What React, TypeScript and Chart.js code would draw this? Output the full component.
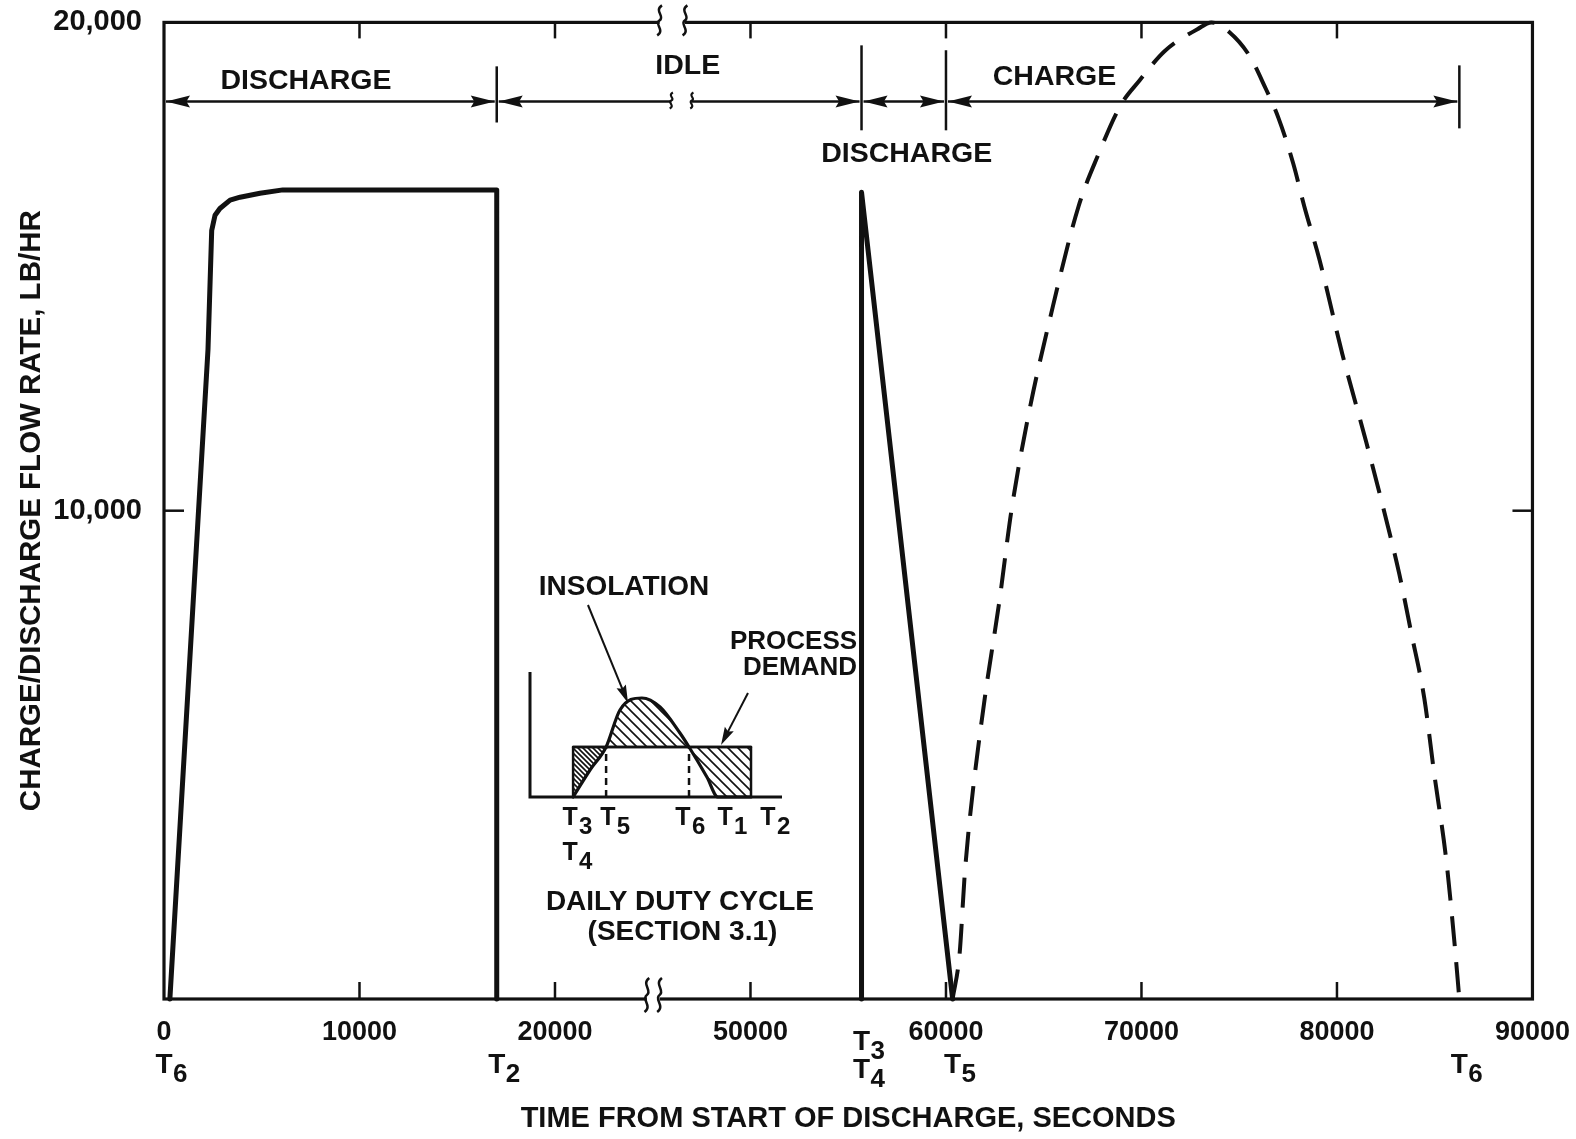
import React, { useEffect, useRef } from 'react';
import { Chart, registerables } from 'chart.js';

Chart.register(...registerables);

const FONT = "'Liberation Sans', Arial, Helvetica, sans-serif";
const INK = '#111';

// ---------------- main chart data ----------------
const X_TICK_POSITIONS = [0, 10000, 20000, 30000, 40000, 50000, 60000, 70000];
const X_TICK_LABELS = ['0', '10000', '20000', '50000', '60000', '70000', '80000', '90000'];
const Y_TICK_VALUES = [0, 10000, 20000];
const Y_TICK_LABELS = ['', '10,000', '20,000'];
const AXIS_BREAK_AT = 25000; // real seconds; later times are shifted left by the gap
const AXIS_GAP = 20000;

// first discharge (real seconds, lb/hr)
const DISCHARGE1_T = [300, 2250, 2440, 2610, 2860, 3380, 3890, 4910, 6080, 17020, 17020];
const DISCHARGE1_V = [0, 13300, 15740, 16050, 16190, 16360, 16420, 16500, 16570, 16570, 0];

// second discharge
const DISCHARGE2_T = [55680, 55680, 60340];
const DISCHARGE2_V = [0, 16520, 0];

// charge (dashed)
const CHARGE_T = [60340, 60700, 60950, 61210, 61970, 62740, 63350, 64270, 65300, 66780, 67800, 68930, 69900, 71180, 72860, 73580, 74500, 75520, 76290, 77000, 77770, 78330, 79100, 80280, 81500, 82530, 83190, 83800, 84470, 84980, 85590, 86000, 86260];
const CHARGE_V = [0, 940, 2500, 3660, 6120, 8170, 10010, 12060, 13900, 16230, 17300, 18300, 18810, 19410, 19860, 20000, 19800, 19320, 18700, 18050, 17100, 16230, 15150, 13200, 11400, 9800, 8700, 7500, 6150, 4600, 2850, 1200, 0];

const PHASE_LABELS = ['DISCHARGE', 'IDLE', 'DISCHARGE', 'CHARGE'];
const PHASE_BOUNDS = [0, 17020, 55680, 60000, 86260];
const T_MARK_TIMES = [0, 17020, 55680, 60340, 86260];
const T_MARK_SUBS = [['6'], ['2'], ['3', '4'], ['5'], ['6']];

// ---------------- inset (daily duty cycle) data ----------------
const INSOL_X = [17.1, 23.8, 30.2, 35.7, 44.4, 51.6, 59.5, 63.1, 70.2, 74.6, 87.7];
const INSOL_Y = [0, 21.6, 40, 69.6, 79.2, 72, 51.2, 40, 16, 0, 0];
const DEMAND_LEVEL = 40;
const DEMAND_START = 17.1;
const DEMAND_END = 87.7;
const INSET_T5 = 30.2;
const INSET_T6 = 63.1;
const INSET_T_LABELS = ['3', '5', '6', '1', '2'];

// target plot frame on the page
const PLOT_LEFT = 164;
const PLOT_TOP = 22;
const PLOT_RIGHT = 1533;
const PLOT_BOTTOM = 999;
const PAGE_W = 1576;
const PAGE_H = 1139;

const toAxis = (t: number) => (t > AXIS_BREAK_AT ? t - AXIS_GAP : t);
const pts = (ts: number[], vs: number[]) => ts.map((t, i) => ({ x: toAxis(t), y: vs[i] }));

function seg(ctx: any, x1: number, y1: number, x2: number, y2: number) {
  ctx.beginPath();
  ctx.moveTo(x1, y1);
  ctx.lineTo(x2, y2);
  ctx.stroke();
}
function head(ctx: any, tx: number, ty: number, ang: number, len = 24, half = 6) {
  const c = Math.cos(ang), s = Math.sin(ang);
  ctx.beginPath();
  ctx.moveTo(tx, ty);
  ctx.lineTo(tx - len * c + half * s, ty - len * s - half * c);
  ctx.lineTo(tx - len * c * 0.85, ty - len * s * 0.85);
  ctx.lineTo(tx - len * c - half * s, ty - len * s + half * c);
  ctx.closePath();
  ctx.fill();
}
function squiggle(ctx: any, x: number, y: number, h: number, w: number) {
  ctx.beginPath();
  ctx.moveTo(x + w * 0.4, y - h / 2);
  ctx.bezierCurveTo(x - w, y - h * 0.32, x + w, y - h * 0.12, x, y);
  ctx.bezierCurveTo(x - w, y + h * 0.12, x + w, y + h * 0.32, x - w * 0.4, y + h / 2);
  ctx.stroke();
}
function tLabel(ctx: any, x: number, y: number, sub: string, big: number, small: number, dx: number, dy: number) {
  ctx.textBaseline = 'middle';
  ctx.font = `bold ${big}px ${FONT}`;
  ctx.textAlign = 'center';
  ctx.fillText('T', x, y);
  ctx.font = `bold ${small}px ${FONT}`;
  ctx.textAlign = 'left';
  ctx.fillText(sub, x + dx, y + dy);
}

const mainDecor = {
  id: 'mainDecor',
  beforeDatasetsDraw(chart: any) {
    const { ctx, chartArea: a, scales } = chart;
    const x = scales.x, y = scales.y;
    ctx.save();
    ctx.strokeStyle = INK;
    ctx.lineWidth = 3.2;
    ctx.strokeRect(a.left, a.top, a.right - a.left, a.bottom - a.top);
    ctx.lineWidth = 2.5;
    X_TICK_POSITIONS.slice(1, -1).forEach((v) => {
      const px = x.getPixelForValue(v);
      seg(ctx, px, a.bottom, px, a.bottom - 17);
      seg(ctx, px, a.top, px, a.top + 16);
    });
    const py = y.getPixelForValue(10000);
    seg(ctx, a.left, py, a.left + 20, py);
    seg(ctx, a.right, py, a.right - 20, py);
    // axis breaks
    const bb = [x.getPixelForValue(24700), x.getPixelForValue(25350)];
    const tb = [x.getPixelForValue(25350), x.getPixelForValue(26650)];
    ctx.fillStyle = '#fff';
    ctx.fillRect(bb[0], a.bottom - 3, bb[1] - bb[0], 6);
    ctx.fillRect(tb[0], a.top - 3, tb[1] - tb[0], 6);
    ctx.lineWidth = 2.5;
    bb.forEach((p) => squiggle(ctx, p, a.bottom - 4, 34, 6));
    tb.forEach((p) => squiggle(ctx, p, a.top - 2, 30, 6));
    ctx.restore();
  },
  afterDatasetsDraw(chart: any) {
    const { ctx, chartArea: a, scales } = chart;
    const x = scales.x, y = scales.y;
    const xp = (t: number) => x.getPixelForValue(toAxis(t));
    ctx.save();
    ctx.strokeStyle = INK;
    ctx.fillStyle = INK;
    ctx.lineWidth = 2.5;
    const yA = y.getPixelForValue(18380);
    // phase boundary markers
    const bounds = [
      { t: 17020, v1: 19100, v2: 17950 },
      { t: 55680, v1: 19530, v2: 17790 },
      { t: 60000, v1: 19430, v2: 17790 },
      { t: 86260, v1: 19120, v2: 17830 },
    ];
    bounds.forEach((b) => seg(ctx, xp(b.t), y.getPixelForValue(b.v1), xp(b.t), y.getPixelForValue(b.v2)));
    // phase arrows
    for (let i = 0; i < PHASE_LABELS.length; i++) {
      const s = xp(PHASE_BOUNDS[i]) + 2;
      const e = xp(PHASE_BOUNDS[i + 1]) - 2;
      if (i === 1) {
        const b1 = x.getPixelForValue(25950), b2 = x.getPixelForValue(27000);
        seg(ctx, s, yA, b1, yA);
        seg(ctx, b2, yA, e, yA);
        ctx.lineWidth = 2.2;
        squiggle(ctx, b1, yA - 1, 16, 4);
        squiggle(ctx, b2, yA - 1, 16, 4);
        ctx.lineWidth = 2.5;
      } else {
        seg(ctx, s, yA, e, yA);
      }
      head(ctx, s, yA, Math.PI);
      head(ctx, e, yA, 0);
    }
    // phase labels
    const labelPos = [
      { t: 7260, v: 18790 },
      { t: 46790, v: 19100 },
      { t: 57990, v: 17300 },
      { t: 65550, v: 18870 },
    ];
    ctx.font = `bold 28.5px ${FONT}`;
    ctx.textAlign = 'center';
    ctx.textBaseline = 'middle';
    PHASE_LABELS.forEach((l, i) => ctx.fillText(l, xp(labelPos[i].t), y.getPixelForValue(labelPos[i].v)));
    // T markers under the axis
    T_MARK_TIMES.forEach((t, i) => {
      const subs = T_MARK_SUBS[i];
      const px = xp(t);
      if (subs.length === 1) {
        tLabel(ctx, px, a.bottom + 66, subs[0], 28, 26, 9, 10);
      } else {
        tLabel(ctx, px, a.bottom + 43, subs[0], 28, 26, 9, 10);
        tLabel(ctx, px, a.bottom + 71, subs[1], 28, 26, 9, 10);
      }
    });
    ctx.restore();
  },
};

function makeHatch(size: number, offset: number) {
  const c = document.createElement('canvas');
  c.width = size;
  c.height = size;
  const g = c.getContext('2d')!;
  g.strokeStyle = INK;
  g.lineWidth = 1.6;
  g.beginPath();
  for (let k = -size; k <= size; k += size) {
    g.moveTo(-1, k + offset - 1);
    g.lineTo(size + 1, k + offset + size + 1);
  }
  g.stroke();
  return g.createPattern(c, 'repeat');
}

const insetDecor = {
  id: 'insetDecor',
  afterDatasetsDraw(chart: any) {
    const { ctx, scales } = chart;
    const x = scales.x, y = scales.y;
    const X = (v: number) => x.getPixelForValue(v);
    const Y = (v: number) => y.getPixelForValue(v);
    ctx.save();
    ctx.strokeStyle = INK;
    ctx.fillStyle = INK;
    ctx.lineWidth = 2;
    const arrows = [
      { x1: 23, y1: 153.6, x2: 38.9, y2: 75.2 },
      { x1: 86.5, y1: 83.2, x2: 75.8, y2: 41.6 },
    ];
    arrows.forEach((ar) => {
      const ax1 = X(ar.x1), ay1 = Y(ar.y1), ax2 = X(ar.x2), ay2 = Y(ar.y2);
      const ang = Math.atan2(ay2 - ay1, ax2 - ax1);
      seg(ctx, ax1, ay1, ax2 - Math.cos(ang) * 10, ay2 - Math.sin(ang) * 10);
      head(ctx, ax2, ay2, ang, 18, 5);
    });
    ctx.textBaseline = 'middle';
    ctx.font = `bold 28px ${FONT}`;
    ctx.textAlign = 'center';
    ctx.fillText('INSOLATION', X(37.3), Y(168));
    ctx.font = `bold 26px ${FONT}`;
    ctx.textAlign = 'right';
    ctx.fillText('PROCESS', X(129.8), Y(124));
    ctx.fillText('DEMAND', X(129.8), Y(103.2));
    ctx.font = `bold 28px ${FONT}`;
    ctx.textAlign = 'center';
    ctx.fillText('DAILY DUTY CYCLE', X(59.5), Y(-84));
    ctx.fillText('(SECTION 3.1)', X(60.5), Y(-108));
    const labelX = [15.9, 30.9, 60.7, 77.4, 94.4];
    INSET_T_LABELS.forEach((s, i) => tLabel(ctx, X(labelX[i]), Y(-16.8), s, 25, 24, 9, 9));
    tLabel(ctx, X(labelX[0]), Y(-44.8), '4', 25, 24, 9, 9);
    ctx.restore();
  },
};

function mainConfig(): any {
  const tickFont = { family: FONT, size: 27, weight: 'bold' as const };
  const lineBase = { borderColor: INK, pointRadius: 0, pointHoverRadius: 0, fill: false, clip: false as any, borderJoinStyle: 'round' as const, borderCapStyle: 'round' as const };
  return {
    type: 'line',
    data: {
      datasets: [
        { ...lineBase, data: pts(DISCHARGE1_T, DISCHARGE1_V), borderWidth: 5, tension: 0 },
        { ...lineBase, data: pts(DISCHARGE2_T, DISCHARGE2_V), borderWidth: 5, tension: 0 },
        { ...lineBase, data: pts(CHARGE_T, CHARGE_V), borderWidth: 4, borderDash: [30, 16], borderCapStyle: 'butt' as const, cubicInterpolationMode: 'monotone' as const },
      ],
    },
    options: {
      responsive: false,
      animation: false,
      devicePixelRatio: 1,
      events: [],
      layout: { padding: { top: PLOT_TOP, right: PAGE_W - PLOT_RIGHT, left: 0, bottom: 0 } },
      plugins: { legend: { display: false }, tooltip: { enabled: false } },
      scales: {
        x: {
          type: 'linear',
          min: 0,
          max: 70000,
          afterBuildTicks: (s: any) => { s.ticks = X_TICK_POSITIONS.map((v) => ({ value: v })); },
          afterFit: (s: any) => { s.height = PAGE_H - PLOT_BOTTOM; },
          ticks: { callback: (_v: any, i: number) => X_TICK_LABELS[i], font: tickFont, color: INK, padding: 17, maxRotation: 0, autoSkip: false },
          grid: { display: false, drawTicks: false },
          border: { display: false },
          title: { display: true, text: 'TIME FROM START OF DISCHARGE, SECONDS', font: { family: FONT, size: 29, weight: 'bold' }, color: INK, padding: { top: 0, bottom: 3 } },
        },
        y: {
          type: 'linear',
          min: 0,
          max: 20000,
          afterBuildTicks: (s: any) => { s.ticks = Y_TICK_VALUES.map((v) => ({ value: v })); },
          afterFit: (s: any) => { s.width = PLOT_LEFT; },
          ticks: { callback: (_v: any, i: number) => Y_TICK_LABELS[i], font: { ...tickFont, size: 29 }, color: INK, padding: 22 },
          grid: { display: false, drawTicks: false },
          border: { display: false },
          title: { display: true, text: 'CHARGE/DISCHARGE FLOW RATE, LB/HR', font: { family: FONT, size: 29.5, weight: 'bold' }, color: INK, padding: { top: 14, bottom: 0 } },
        },
      },
    },
    plugins: [mainDecor],
  };
}

export default function App() {
  const mainRef = useRef<HTMLCanvasElement>(null);
  const insetRef = useRef<HTMLCanvasElement>(null);

  useEffect(() => {
    const cv = mainRef.current!;
    // first pass: measure how Chart.js lays out the plot area, then size/offset the canvas
    cv.width = PAGE_W;
    cv.height = PAGE_H;
    const probe = new Chart(cv, mainConfig());
    const ca = probe.chartArea;
    const dTop = ca.top - PLOT_TOP;
    const dRight = PLOT_RIGHT - ca.right;
    probe.destroy();
    cv.width = PAGE_W + dRight;
    cv.height = PAGE_H + dTop;
    cv.style.top = `${-dTop}px`;
    const main = new Chart(cv, mainConfig());

    const hatch = makeHatch(10, 0);
    const hatchB = makeHatch(10, 5);
    const lineBase = { borderColor: INK, pointRadius: 0, pointHoverRadius: 0, fill: false, clip: false as any, borderJoinStyle: 'round' as const, borderCapStyle: 'round' as const };
    const insolPts = INSOL_X.map((xv, i) => ({ x: xv, y: INSOL_Y[i] }));
    const inset = new Chart(insetRef.current!, {
      type: 'line',
      data: {
        datasets: [
          { ...lineBase, data: [{ x: DEMAND_START, y: DEMAND_LEVEL }, { x: DEMAND_END, y: DEMAND_LEVEL }], borderWidth: 2.5 },
          { ...lineBase, data: insolPts, borderWidth: 3.2, cubicInterpolationMode: 'monotone' as const, fill: { target: 0, above: hatch, below: hatch } },
          { ...lineBase, data: insolPts.slice(0, 3), borderWidth: 0, borderColor: 'rgba(0,0,0,0)', cubicInterpolationMode: 'monotone' as const, fill: { target: 0, above: 'rgba(0,0,0,0)', below: hatchB } },
          { ...lineBase, data: [{ x: DEMAND_START, y: 0 }, { x: DEMAND_START, y: DEMAND_LEVEL }, { x: DEMAND_END, y: DEMAND_LEVEL }, { x: DEMAND_END, y: 0 }], borderWidth: 2.5, tension: 0 },
          { ...lineBase, data: [{ x: INSET_T5, y: 0 }, { x: INSET_T5, y: DEMAND_LEVEL }], borderWidth: 2.5, borderDash: [7, 5], borderCapStyle: 'butt' as const },
          { ...lineBase, data: [{ x: INSET_T6, y: 0 }, { x: INSET_T6, y: DEMAND_LEVEL }], borderWidth: 2.5, borderDash: [7, 5], borderCapStyle: 'butt' as const },
          { ...lineBase, data: [{ x: 0, y: 100 }, { x: 0, y: 0 }, { x: 100, y: 0 }], borderWidth: 3, tension: 0, borderJoinStyle: 'miter' as const, borderCapStyle: 'butt' as const },
        ],
      },
      options: {
        responsive: false,
        animation: false,
        devicePixelRatio: 1,
        events: [],
        layout: { padding: { left: 30, top: 112, right: 98, bottom: 163 } },
        plugins: { legend: { display: false }, tooltip: { enabled: false } },
        scales: {
          x: { type: 'linear', min: 0, max: 100, display: false },
          y: { type: 'linear', min: 0, max: 100, display: false },
        },
      } as any,
      plugins: [insetDecor],
    });

    return () => {
      main.destroy();
      inset.destroy();
    };
  }, []);

  return (
    <div style={{ position: 'absolute', left: 0, top: 0, width: PAGE_W, height: PAGE_H, background: '#fff', overflow: 'hidden' }}>
      <canvas ref={mainRef} width={PAGE_W} height={PAGE_H} style={{ position: 'absolute', left: 0, top: 0 }} />
      <canvas ref={insetRef} width={380} height={400} style={{ position: 'absolute', left: 500, top: 560 }} />
    </div>
  );
}
